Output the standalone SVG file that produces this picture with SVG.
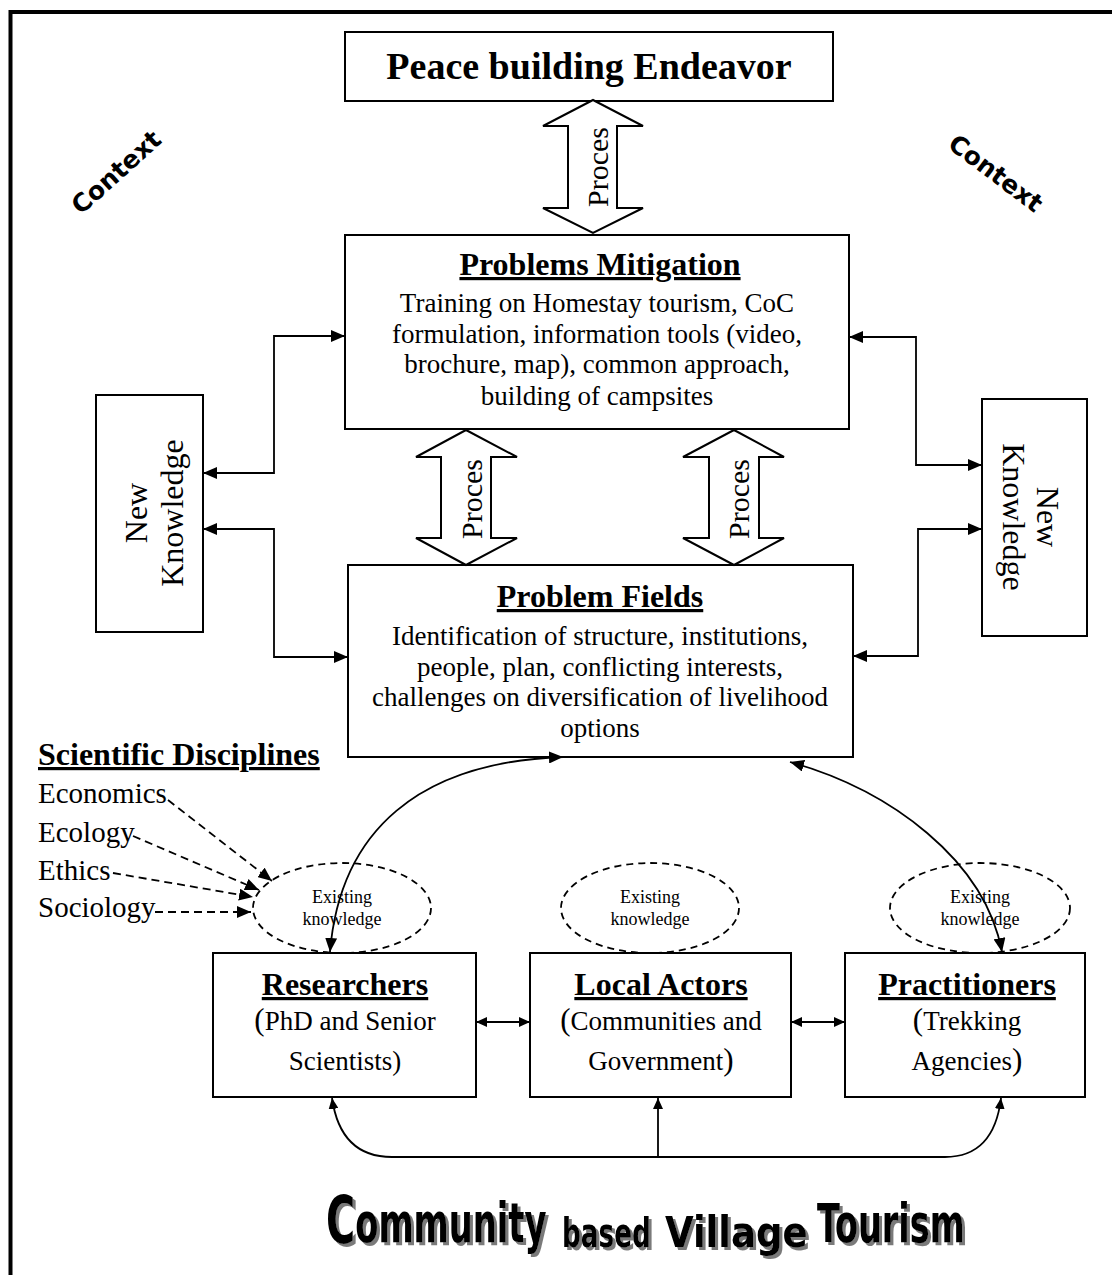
<svg xmlns="http://www.w3.org/2000/svg" width="1112" height="1275" viewBox="0 0 1112 1275">
<style>
.box{fill:#fff;stroke:#000;stroke-width:2}
.t{font-family:"Liberation Serif","Times New Roman",serif;fill:#000}
.hd{font-weight:bold;text-decoration:underline;font-size:32px}
.bd{font-size:27px}
.ek{font-size:18px}
.c{text-anchor:middle}
.conn{fill:none;stroke:#000;stroke-width:1.8}
.dash{stroke-dasharray:8 5}
.ell{fill:none;stroke:#000;stroke-width:1.8;stroke-dasharray:7 5}
.pa{fill:#fff;stroke:#000;stroke-width:2;stroke-linejoin:miter}
.ctx{font-family:"DejaVu Sans",sans-serif;font-weight:bold;font-size:25px;text-anchor:middle}
.ttl{font-family:"DejaVu Sans Condensed","DejaVu Sans",sans-serif;font-weight:bold;font-stretch:condensed}
</style>
<defs>
<marker id="ah" viewBox="0 0 14 12" refX="14" refY="6" markerWidth="14" markerHeight="12" markerUnits="userSpaceOnUse" orient="auto-start-reverse"><path d="M0,0 L14,6 L0,12 z" fill="#000"/></marker>
<marker id="ahs" viewBox="0 0 11 10" refX="11" refY="5" markerWidth="11" markerHeight="10" markerUnits="userSpaceOnUse" orient="auto-start-reverse"><path d="M0,0 L11,5 L0,10 z" fill="#000"/></marker>
<filter id="shadow" x="-5%" y="-20%" width="115%" height="150%"><feDropShadow dx="3" dy="3" stdDeviation="0.6" flood-color="#7a7a7a" flood-opacity="1"/></filter>
</defs>
<rect width="1112" height="1275" fill="#fff"/>
<path d="M10.5,1275 V12 H1112" fill="none" stroke="#000" stroke-width="4"/>

<g id="context-left"><text class="ctx" transform="translate(116,172) rotate(-42)" dy="9">Context</text></g>
<g id="context-right"><text class="ctx" transform="translate(996,173) rotate(37)" dy="9">Context</text></g>

<g id="peace"><rect class="box" x="345" y="32" width="488" height="69"/><text class="t c" x="589" y="79" font-size="38" font-weight="bold">Peace building Endeavor</text></g>

<g id="mitigation"><rect class="box" x="345" y="235" width="504" height="194"/>
<text class="t c hd" x="600" y="275">Problems Mitigation</text>
<text class="t c bd" x="597" y="312">Training on Homestay tourism, CoC</text>
<text class="t c bd" x="597" y="343">formulation, information tools (video,</text>
<text class="t c bd" x="597" y="373">brochure, map), common approach,</text>
<text class="t c bd" x="597" y="405">building of campsites</text></g>

<g id="fields"><rect class="box" x="348" y="565" width="505" height="192"/>
<text class="t c hd" x="600" y="607">Problem Fields</text>
<text class="t c bd" x="600" y="645">Identification of structure, institutions,</text>
<text class="t c bd" x="600" y="676">people, plan, conflicting interests,</text>
<text class="t c bd" x="600" y="706">challenges on diversification of livelihood</text>
<text class="t c bd" x="600" y="737">options</text></g>

<g id="nk-left"><rect class="box" x="96" y="395" width="107" height="237"/>
<text class="t c" font-size="32" transform="translate(147,513) rotate(-90)">New</text>
<text class="t c" font-size="32" transform="translate(183,513) rotate(-90)">Knowledge</text></g>

<g id="nk-right"><rect class="box" x="982" y="399" width="105" height="237"/>
<text class="t c" font-size="32" transform="translate(1037,517) rotate(90)">New</text>
<text class="t c" font-size="32" transform="translate(1003,517) rotate(90)">Knowledge</text></g>

<g id="disciplines">
<text class="t hd" x="38" y="765">Scientific Disciplines</text>
<text class="t" font-size="29" x="38" y="803">Economics</text>
<text class="t" font-size="29" x="38" y="842">Ecology</text>
<text class="t" font-size="29" x="38" y="880">Ethics</text>
<text class="t" font-size="29" x="38" y="917">Sociology</text></g>

<g id="ek-left"><ellipse class="ell" cx="342" cy="908" rx="89" ry="45"/><text class="t c ek" x="342" y="903">Existing</text><text class="t c ek" x="342" y="925">knowledge</text></g>
<g id="ek-middle"><ellipse class="ell" cx="650" cy="908" rx="89" ry="45"/><text class="t c ek" x="650" y="903">Existing</text><text class="t c ek" x="650" y="925">knowledge</text></g>
<g id="ek-right"><ellipse class="ell" cx="980" cy="908" rx="90" ry="45"/><text class="t c ek" x="980" y="903">Existing</text><text class="t c ek" x="980" y="925">knowledge</text></g>

<g id="researchers"><rect class="box" x="213" y="953" width="263" height="144"/>
<text class="t c hd" x="345" y="995">Researchers</text>
<text class="t c bd" x="345" y="1030"><tspan font-size="31">(</tspan>PhD and Senior</text>
<text class="t c bd" x="345" y="1070">Scientists)</text></g>

<g id="local"><rect class="box" x="530" y="953" width="261" height="144"/>
<text class="t c hd" x="661" y="995">Local Actors</text>
<text class="t c bd" x="661" y="1030"><tspan font-size="31">(</tspan>Communities and</text>
<text class="t c bd" x="661" y="1070">Government<tspan font-size="31">)</tspan></text></g>

<g id="practitioners"><rect class="box" x="845" y="953" width="240" height="144"/>
<text class="t c hd" x="967" y="995">Practitioners</text>
<text class="t c bd" x="967" y="1030"><tspan font-size="31">(</tspan>Trekking</text>
<text class="t c bd" x="967" y="1070">Agencies<tspan font-size="31">)</tspan></text></g>

<g id="connectors">
<polygon class="pa" points="593,100 643,126 617,126 617,208 643,208 593,233 543,208 568,208 568,126 543,126"/>
<text class="t c" font-size="30" transform="translate(608,167) rotate(-90)">Proces</text>
<polygon class="pa" points="466,430 517,457 491,457 491,538 517,538 466,565 416,538 441,538 441,457 416,457"/>
<text class="t c" font-size="30" transform="translate(482,499) rotate(-90)">Proces</text>
<polygon class="pa" points="734,430 784,457 759,457 759,538 784,538 734,565 683,538 709,538 709,457 683,457"/>
<text class="t c" font-size="30" transform="translate(749,499) rotate(-90)">Proces</text>

<path class="conn" d="M345,336 H274 V473 H203" marker-start="url(#ah)" marker-end="url(#ah)"/>
<path class="conn" d="M203,529 H274 V657 H348" marker-start="url(#ah)" marker-end="url(#ah)"/>
<path class="conn" d="M849,337 H916 V465 H982" marker-start="url(#ah)" marker-end="url(#ah)"/>
<path class="conn" d="M982,529 H918 V656 H853" marker-start="url(#ah)" marker-end="url(#ah)"/>

<path class="conn dash" d="M168,800 L272,881" marker-end="url(#ah)"/>
<path class="conn dash" d="M133,836 L259,890" marker-end="url(#ah)"/>
<path class="conn dash" d="M113,873 L253,897" marker-end="url(#ah)"/>
<path class="conn dash" d="M155,912 L251,912" marker-end="url(#ah)"/>

<path class="conn" d="M563,757 C420,762 340,830 330,952" marker-start="url(#ah)" marker-end="url(#ah)"/>
<path class="conn" d="M790,762 C890,790 985,860 1002,952" marker-start="url(#ah)" marker-end="url(#ah)"/>

<path class="conn" d="M476,1022 H530" marker-start="url(#ahs)" marker-end="url(#ahs)"/>
<path class="conn" d="M791,1022 H845" marker-start="url(#ahs)" marker-end="url(#ahs)"/>

<path class="conn" d="M332,1098 C338,1140 360,1157 392,1157 H945 C975,1157 996,1140 1001,1098" marker-start="url(#ahs)" marker-end="url(#ahs)"/>
<path class="conn" d="M658,1157 V1098" marker-end="url(#ahs)"/>
</g>

<g id="title" class="ttl" filter="url(#shadow)">
<text transform="translate(326,1243) scale(0.67,1)"><tspan font-size="66">C</tspan><tspan font-size="56" dy="-1">ommunity</tspan></text>
<text transform="translate(562,1247) scale(0.73,1)" font-size="40">based</text>
<text transform="translate(665,1247) scale(0.98,1)" font-size="42">Village</text>
<text transform="translate(817,1242) scale(0.69,1)" font-size="54">Tourism</text>
</g>
</svg>
